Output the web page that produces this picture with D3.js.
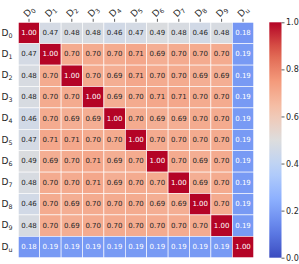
<!DOCTYPE html>
<html>
<head>
<meta charset="utf-8">
<script src="https://cdn.jsdelivr.net/npm/d3@7"></script>
<style>
  body { margin: 0; background: #fff; }
  text { font-family: "DejaVu Sans", sans-serif; }
</style>
</head>
<body>
<div id="chart"></div>
<script>
// subscripts of the D labels
const labels = ["0", "1", "2", "3", "4", "5", "6", "7", "8", "9", "u"];

const rowD0 = [1.00, 0.47, 0.48, 0.48, 0.46, 0.47, 0.49, 0.48, 0.46, 0.48, 0.18];
const rowD1 = [0.47, 1.00, 0.70, 0.70, 0.70, 0.71, 0.69, 0.70, 0.70, 0.70, 0.19];
const rowD2 = [0.48, 0.70, 1.00, 0.70, 0.69, 0.71, 0.70, 0.70, 0.69, 0.69, 0.19];
const rowD3 = [0.48, 0.70, 0.70, 1.00, 0.69, 0.70, 0.71, 0.71, 0.70, 0.70, 0.19];
const rowD4 = [0.46, 0.70, 0.69, 0.69, 1.00, 0.70, 0.69, 0.69, 0.70, 0.70, 0.19];
const rowD5 = [0.47, 0.71, 0.71, 0.70, 0.70, 1.00, 0.70, 0.70, 0.70, 0.70, 0.19];
const rowD6 = [0.49, 0.69, 0.70, 0.71, 0.69, 0.70, 1.00, 0.70, 0.69, 0.70, 0.19];
const rowD7 = [0.48, 0.70, 0.70, 0.71, 0.69, 0.70, 0.70, 1.00, 0.69, 0.70, 0.19];
const rowD8 = [0.46, 0.70, 0.69, 0.70, 0.70, 0.70, 0.69, 0.69, 1.00, 0.70, 0.19];
const rowD9 = [0.48, 0.70, 0.69, 0.70, 0.70, 0.70, 0.70, 0.70, 0.70, 1.00, 0.19];
const rowDu = [0.18, 0.19, 0.19, 0.19, 0.19, 0.19, 0.19, 0.19, 0.19, 0.19, 1.00];

const matrix = [rowD0, rowD1, rowD2, rowD3, rowD4, rowD5, rowD6, rowD7, rowD8, rowD9, rowDu];
const cbarTicks = [0.0, 0.2, 0.4, 0.6, 0.8, 1.0];

const width = 299, height = 264;
const mLeft = 18.3, mTop = 22.3, cell = 21.4;
const n = labels.length;

const svg = d3.select("#chart").append("svg")
    .attr("width", width)
    .attr("height", height);

// coolwarm-like colour map
const color = d3.scaleLinear()
    .domain([0, 0.125, 0.25, 0.375, 0.5, 0.625, 0.75, 0.875, 1])
    .range(["#3b4cc0", "#6282ea", "#8db0fe", "#b8d0f9", "#dddddd",
            "#f5c4ad", "#f49a7b", "#de604d", "#b40426"])
    .clamp(true);

const x = d3.scaleBand().domain(labels).range([mLeft, mLeft + n * cell]);
const y = d3.scaleBand().domain(labels).range([mTop, mTop + n * cell]);

const cells = [];
matrix.forEach((row, i) => row.forEach((v, j) => cells.push({ r: labels[i], c: labels[j], v: v })));

svg.append("g").selectAll("rect")
    .data(cells)
    .enter().append("rect")
    .attr("x", d => x(d.c))
    .attr("y", d => y(d.r))
    .attr("width", x.bandwidth())
    .attr("height", y.bandwidth())
    .attr("fill", d => color(d.v))
    .attr("stroke", "#fff")
    .attr("stroke-width", 0.6);

function lum(c) {
  const rgb = d3.rgb(c);
  const f = u => { u /= 255; return u <= 0.03928 ? u / 12.92 : Math.pow((u + 0.055) / 1.055, 2.4); };
  return 0.2126 * f(rgb.r) + 0.7152 * f(rgb.g) + 0.0722 * f(rgb.b);
}

svg.append("g").selectAll("text")
    .data(cells)
    .enter().append("text")
    .attr("x", d => x(d.c) + x.bandwidth() / 2)
    .attr("y", d => y(d.r) + y.bandwidth() / 2)
    .attr("text-anchor", "middle")
    .attr("dominant-baseline", "central")
    .attr("font-size", 7)
    .attr("fill", d => lum(color(d.v)) > 0.408 ? "#262626" : "#fff")
    .text(d => d.v.toFixed(2));

// top axis with rotated labels
const xAxis = svg.append("g")
    .attr("transform", "translate(0," + mTop + ")")
    .call(d3.axisTop(x).tickSize(3.5).tickFormat(""));
xAxis.select(".domain").remove();
xAxis.selectAll(".tick line").attr("stroke", "#333").attr("stroke-width", 0.8).attr("y1", -0.5);

labels.forEach(l => {
  const t = svg.append("text")
      .attr("transform", "translate(" + (x(l) + x.bandwidth() / 2) + ",11.5) rotate(-45)")
      .attr("text-anchor", "middle")
      .attr("dominant-baseline", "central")
      .attr("font-size", 9)
      .attr("fill", "#262626");
  t.append("tspan").text("D");
  t.append("tspan").attr("font-size", 6.3).attr("dy", 2).text(l);
});

// row labels
labels.forEach(l => {
  const t = svg.append("text")
      .attr("x", 12.5)
      .attr("y", y(l) + y.bandwidth() / 2 - 0.5)
      .attr("text-anchor", "end")
      .attr("dominant-baseline", "central")
      .attr("font-size", 9)
      .attr("fill", "#262626");
  t.append("tspan").text("D");
  t.append("tspan").attr("font-size", 6.3).attr("dy", 2).text(l);
});

// colour bar
const cbX = 269.3, cbW = 12.2;
const cbScale = d3.scaleLinear().domain([0, 1]).range([mTop + n * cell, mTop]);

const defs = svg.append("defs");
const grad = defs.append("linearGradient")
    .attr("id", "cbar")
    .attr("x1", 0).attr("y1", 1).attr("x2", 0).attr("y2", 0);
d3.range(0, 1.0001, 0.05).forEach(s => {
  grad.append("stop").attr("offset", s).attr("stop-color", color(s));
});

svg.append("rect")
    .attr("x", cbX)
    .attr("y", cbScale(1))
    .attr("width", cbW)
    .attr("height", cbScale(0) - cbScale(1))
    .attr("fill", "url(#cbar)");

const cbAxis = svg.append("g")
    .attr("transform", "translate(" + (cbX + cbW) + ",0)")
    .call(d3.axisRight(cbScale).tickValues(cbarTicks).tickSize(3).tickPadding(1.5).tickFormat(d3.format(".1f")));
cbAxis.select(".domain").remove();
cbAxis.selectAll(".tick line").attr("stroke", "#333").attr("stroke-width", 0.8);
cbAxis.selectAll(".tick text")
    .attr("font-size", 8)
    .attr("fill", "#262626")
    .style("font-family", "DejaVu Sans, sans-serif");
</script>
</body>
</html>
